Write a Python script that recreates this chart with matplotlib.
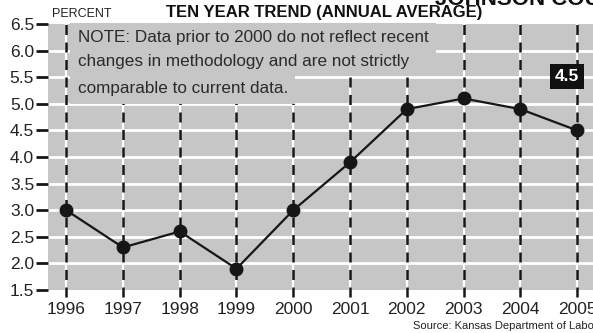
#!/usr/bin/env python3

import matplotlib
matplotlib.use('Agg')
import matplotlib.pyplot as plt

years = [1996, 1997, 1998, 1999, 2000, 2001, 2002, 2003, 2004, 2005]
rate = [3.0, 2.3, 2.6, 1.9, 3.0, 3.9, 4.9, 5.1, 4.9, 4.5]
yticks = [1.5, 2.0, 2.5, 3.0, 3.5, 4.0, 4.5, 5.0, 5.5, 6.0, 6.5]

note_lines = [
    'NOTE: Data prior to 2000 do not reflect recent',
    'changes in methodology and are not strictly',
    'comparable to current data.',
]

narrow = ['Liberation Sans Narrow', 'Liberation Sans', 'DejaVu Sans']
plain = ['Liberation Sans', 'DejaVu Sans']
bg = '#c6c6c6'
ink = '#161616'


def plot_trend():
    fig = plt.figure(figsize=(5.93, 3.33), dpi=100)
    ax = fig.add_axes([48/593, 1 - 290/333, 545/593, 266/333])
    ax.set_facecolor(bg)
    for s in ax.spines.values():
        s.set_visible(False)

    ax.set_xlim(1995.68, 2005.28)
    ax.set_ylim(1.5, 6.5)

    # white horizontal rules
    for y in yticks[1:-1]:
        ax.axhline(y, color='white', lw=2, zorder=1)

    # dashed year lines, running down past the box
    for x in years:
        ax.plot([x, x], [1.37, 6.5], color='white', lw=1.6, zorder=2,
                clip_on=False, solid_capstyle='butt')
        ax.plot([x, x], [1.37, 6.5], color=ink, lw=1.8, zorder=2,
                clip_on=False, dashes=(4, 3))

    ax.plot(years, rate, color=ink, lw=1.6, marker='o', markersize=9,
            zorder=4)

    # note: first two lines share one patch, the short last line its own
    box = dict(facecolor=bg, edgecolor='none', boxstyle='square,pad=0.45')
    ax.text(1996.2, 6.02, '\n'.join(note_lines[:2]), family=narrow,
            fontsize=12.3, color='#2a2a2a', va='center', ha='left',
            zorder=3, linespacing=1.7, bbox=box)
    ax.text(1996.2, 5.29, note_lines[2], family=narrow,
            fontsize=12.3, color='#2a2a2a', va='center', ha='left',
            zorder=3, bbox=box)

    # latest value badge
    ax.annotate(f'{rate[-1]:.1f}', (years[-1], rate[-1]),
                xytext=(-10, 54), textcoords='offset pixels',
                ha='center', va='center', fontsize=12.5, fontweight='bold',
                family=plain, color='white', zorder=5,
                bbox=dict(facecolor='#111111', edgecolor='none',
                          boxstyle='square,pad=0.3'))

    ax.set_yticks(yticks)
    ax.set_yticklabels([f'{y:.1f}' for y in yticks], family=plain,
                       fontsize=12.5, color='#222222')
    ax.tick_params(axis='y', length=9, width=2, color=ink, pad=1)

    ax.set_xticks(years)
    ax.set_xticklabels([str(y) for y in years], family=narrow,
                       fontsize=12.5, color='#222222')
    ax.tick_params(axis='x', length=0, pad=9)

    fig.text(52/593, 1 - 14/333, 'PERCENT', family=narrow, fontsize=9,
             color='#222222', va='center', ha='left')
    fig.text(324/593, 1 - 12/333, 'TEN YEAR TREND (ANNUAL AVERAGE)',
             family=plain, fontsize=12, fontweight='bold', color='#111111',
             va='center', ha='center')
    fig.text(435/593, 1 - 5/333, 'JOHNSON COUNTY', family=plain,
             fontsize=16, fontweight='bold', color='#111111',
             va='baseline', ha='left')
    fig.text(413/593, 1 - 326/333, 'Source: Kansas Department of Labor',
             family=narrow, fontsize=8, color='#222222', va='center',
             ha='left')

    fig.savefig('out.png', dpi=100, facecolor='white')


plot_trend()
